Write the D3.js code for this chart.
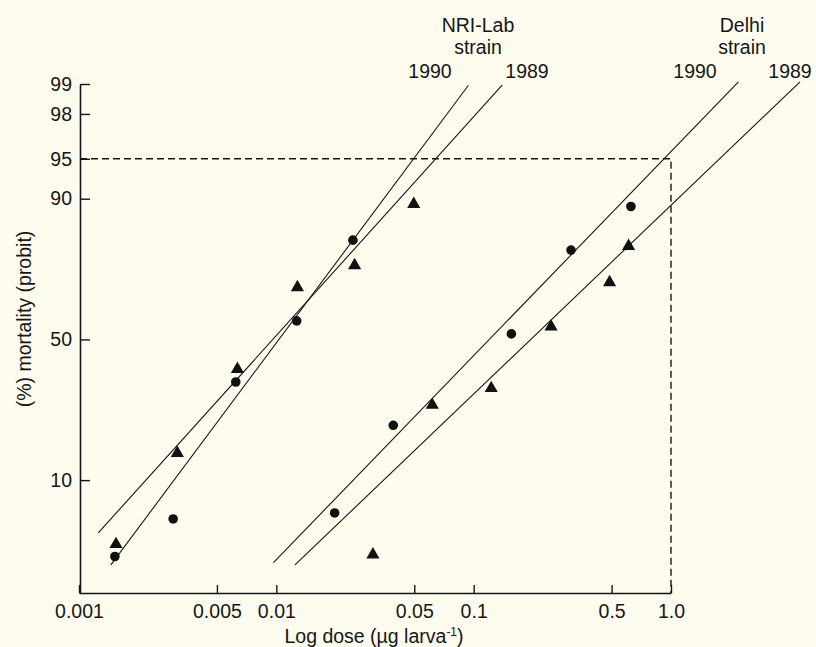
<!DOCTYPE html>
<html>
<head>
<meta charset="utf-8">
<script src="https://cdn.jsdelivr.net/npm/d3@7/dist/d3.min.js"></script>
<style>
  html, body { margin: 0; padding: 0; background: #fdfcef; }
  svg { display: block; }
  text { font-family: "Liberation Sans", Arial, Helvetica, sans-serif; fill: #161616; }
</style>
</head>
<body>
<svg id="chart" width="816" height="647"></svg>
<script>
// ---------- DATA ----------
const xTicks = [0.001, 0.005, 0.01, 0.05, 0.1, 0.5, 1.0];
const xTickLabels = ["0.001", "0.005", "0.01", "0.05", "0.1", "0.5", "1.0"];
const yTicks = [10, 50, 90, 95, 98, 99];
const yTickLabels = ["10", "50", "90", "95", "98", "99"];

// NRI-Lab strain — dose (µg/larva), mortality (%)
const nri1990Dose = [0.00152, 0.0030, 0.00623, 0.01268, 0.02444];
const nri1990Mort = [2.4, 5.1, 34.9, 56.7, 81.7];
const nri1989Dose = [0.00154, 0.00315, 0.00635, 0.01279, 0.02493, 0.0497];
const nri1989Mort = [3.1, 15.0, 39.3, 68.2, 75.0, 89.1];

// Delhi strain
const delhi1990Dose = [0.01974, 0.03914, 0.1553, 0.3114, 0.6266];
const delhi1990Mort = [5.7, 21.7, 52.0, 79.2, 88.7];
const delhi1989Dose = [0.03087, 0.0617, 0.1227, 0.2467, 0.4884, 0.6096];
const delhi1989Mort = [2.5, 27.5, 32.8, 54.6, 69.8, 80.2];

// Fitted probit lines: [dose, mortality %] endpoints
const lineNri1990 = [[0.00145, 2.0], [0.0941, 98.97]];
const lineNri1989 = [[0.001252, 3.9], [0.1394, 98.97]];
const lineDelhi1990 = [[0.00967, 2.1], [2.196, 99.05]];
const lineDelhi1989 = [[0.01243, 2.0], [4.507, 99.05]];

const refMortality = 95;
const refDose = 1.0;
const yDomainPct = [1.045, 99];
const xDomain = [0.001, 1.0];

// ---------- HELPERS ----------
function probit(pct) {
  const p = pct / 100;
  const a = [-3.969683028665376e+01, 2.209460984245205e+02, -2.759285104469687e+02, 1.383577518672690e+02, -3.066479806614716e+01, 2.506628277459239e+00];
  const b = [-5.447609879822406e+01, 1.615858368580409e+02, -1.556989798598866e+02, 6.680131188771972e+01, -1.328068155288572e+01];
  const c = [-7.784894002430293e-03, -3.223964580411365e-01, -2.400758277161838e+00, -2.549732539343734e+00, 4.374664141464968e+00, 2.938163982698783e+00];
  const d = [7.784695709041462e-03, 3.224671290700398e-01, 2.445134137142996e+00, 3.754408661907416e+00];
  const pl = 0.02425, ph = 1 - pl;
  let q, r;
  if (p < pl) {
    q = Math.sqrt(-2 * Math.log(p));
    return (((((c[0]*q+c[1])*q+c[2])*q+c[3])*q+c[4])*q+c[5]) / ((((d[0]*q+d[1])*q+d[2])*q+d[3])*q+1);
  } else if (p <= ph) {
    q = p - 0.5; r = q*q;
    return (((((a[0]*r+a[1])*r+a[2])*r+a[3])*r+a[4])*r+a[5])*q / (((((b[0]*r+b[1])*r+b[2])*r+b[3])*r+b[4])*r+1);
  } else {
    q = Math.sqrt(-2 * Math.log(1 - p));
    return -(((((c[0]*q+c[1])*q+c[2])*q+c[3])*q+c[4])*q+c[5]) / ((((d[0]*q+d[1])*q+d[2])*q+d[3])*q+1);
  }
}

// ---------- SCALES ----------
const svg = d3.select("#chart");
const x = d3.scaleLog().domain(xDomain).range([79, 671]);
const yz = d3.scaleLinear().domain(yDomainPct.map(probit)).range([593, 84]);
const y = v => yz(probit(v));

// ---------- AXES ----------
const xAxis = d3.axisBottom(x)
  .tickValues(xTicks)
  .tickFormat((d, i) => xTickLabels[i])
  .tickSizeInner(-8).tickSizeOuter(0).tickPadding(11);
const gx = svg.append("g").attr("transform", "translate(0,593)").call(xAxis);
gx.select(".domain").attr("stroke", "#161616").attr("stroke-width", 1.6);
gx.selectAll(".tick line").attr("stroke", "#161616").attr("stroke-width", 1.4);
gx.selectAll(".tick text").attr("font-size", 19.5).attr("font-family", "Liberation Sans, Arial, sans-serif").attr("fill", "#161616");

const yAxis = d3.axisLeft(yz)
  .tickValues(yTicks.map(probit))
  .tickFormat((d, i) => yTickLabels[i])
  .tickSizeInner(-10).tickSizeOuter(0).tickPadding(8);
const gy = svg.append("g").attr("transform", "translate(80,0)").call(yAxis);
gy.select(".domain").attr("stroke", "#161616").attr("stroke-width", 1.6);
gy.selectAll(".tick line").attr("stroke", "#161616").attr("stroke-width", 1.4);
gy.selectAll(".tick text").attr("font-size", 19.5).attr("font-family", "Liberation Sans, Arial, sans-serif").attr("fill", "#161616");

// ---------- REFERENCE DASHED LINES ----------
svg.append("path")
  .attr("d", d3.line()([[x(xDomain[0]) + 1, y(refMortality)], [x(refDose), y(refMortality)], [x(refDose), y(yDomainPct[0])]]))
  .attr("fill", "none").attr("stroke", "#161616").attr("stroke-width", 1.4)
  .attr("stroke-dasharray", "7,4");

// ---------- FITTED LINES ----------
const line = d3.line().x(d => x(d[0])).y(d => y(d[1]));
[lineNri1990, lineNri1989, lineDelhi1990, lineDelhi1989].forEach(l => {
  svg.append("path").attr("d", line(l))
    .attr("fill", "none").attr("stroke", "#161616").attr("stroke-width", 1.1);
});

// ---------- POINTS ----------
function circles(doses, morts) {
  svg.append("g").selectAll("circle").data(doses.map((d, i) => [d, morts[i]])).join("circle")
    .attr("cx", d => x(d[0])).attr("cy", d => y(d[1])).attr("r", 4.8).attr("fill", "#111");
}
function triangles(doses, morts) {
  const sym = d3.symbol().type(d3.symbolTriangle).size(75);
  svg.append("g").selectAll("path").data(doses.map((d, i) => [d, morts[i]])).join("path")
    .attr("d", sym)
    .attr("transform", d => `translate(${x(d[0])},${y(d[1])})`).attr("fill", "#111");
}
circles(nri1990Dose, nri1990Mort);
triangles(nri1989Dose, nri1989Mort);
circles(delhi1990Dose, delhi1990Mort);
triangles(delhi1989Dose, delhi1989Mort);

// ---------- LABELS ----------
const fs = 19.5;
function label(txt, lx, ly, anchor) {
  svg.append("text").attr("x", lx).attr("y", ly).attr("font-size", fs)
    .attr("text-anchor", anchor || "middle").text(txt);
}
label("NRI-Lab", 478, 32);
label("strain", 478, 54);
label("1990", 430, 78);
label("1989", 527, 78);
label("Delhi", 742, 32);
label("strain", 742, 54);
label("1990", 695, 78);
label("1989", 790, 78);

// x axis title with superscript
const xt = svg.append("text").attr("x", 374).attr("y", 643).attr("font-size", fs).attr("text-anchor", "middle");
xt.append("tspan").text("Log dose (\u00b5g larva");
xt.append("tspan").attr("font-size", 12).attr("dy", -7).text("-1");
xt.append("tspan").attr("dy", 7).text(")");

// y axis title
svg.append("text")
  .attr("transform", "translate(31,319) rotate(-90)")
  .attr("font-size", fs).attr("text-anchor", "middle")
  .text("(%) mortality (probit)");
</script>
</body>
</html>
